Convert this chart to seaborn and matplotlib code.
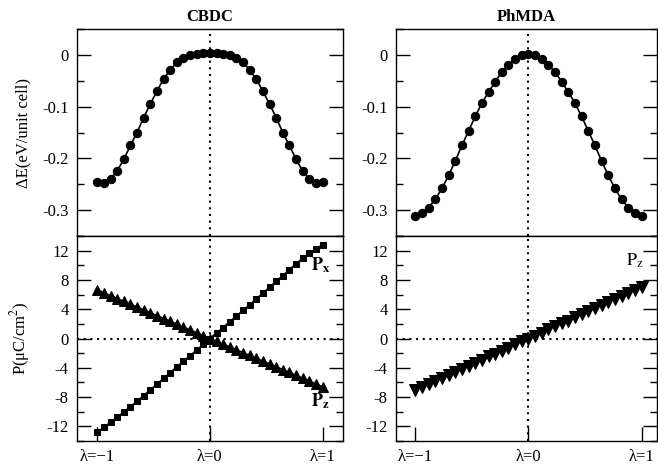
# %%
# Import packages
import numpy as np
import pandas as pd
import seaborn as sns
import matplotlib.pyplot as plt
from matplotlib.ticker import MultipleLocator

# %%
# Values (lambda from -1 to 1)
lam = np.linspace(-1, 1, 35)

cbdc_energy = [-0.246, -0.248, -0.240, -0.224, -0.202, -0.175, -0.150, -0.121, -0.095,
               -0.070, -0.047, -0.029, -0.014, -0.005, -0.001, 0.001, 0.003, 0.004,
               0.003, 0.001, -0.001, -0.005, -0.014, -0.029, -0.047, -0.070, -0.095,
               -0.121, -0.150, -0.175, -0.202, -0.224, -0.240, -0.248, -0.246]
phmda_energy = [-0.311, -0.305, -0.295, -0.279, -0.258, -0.233, -0.205, -0.175, -0.147,
                -0.119, -0.093, -0.072, -0.052, -0.033, -0.019, -0.008, -0.001, 0.002,
                -0.001, -0.008, -0.019, -0.033, -0.052, -0.072, -0.093, -0.119, -0.147,
                -0.175, -0.205, -0.233, -0.258, -0.279, -0.295, -0.305, -0.311]
cbdc_px = [-12.8, -12.1, -11.45, -10.75, -10.05, -9.3, -8.6, -7.8, -7.0,
           -6.25, -5.45, -4.65, -3.9, -3.1, -2.35, -1.6, -0.8, 0.0,
           0.75, 1.5, 2.3, 3.05, 3.85, 4.6, 5.4, 6.2, 7.0,
           7.8, 8.6, 9.4, 10.2, 10.95, 11.65, 12.25, 12.8]
cbdc_pz = [6.65, 6.25, 5.85, 5.45, 5.07, 4.68, 4.28, 3.9, 3.5,
           3.12, 2.73, 2.35, 1.95, 1.56, 1.17, 0.78, 0.39, 0.0,
           -0.39, -0.78, -1.17, -1.55, -1.94, -2.32, -2.71, -3.1, -3.48,
           -3.87, -4.25, -4.64, -5.02, -5.41, -5.8, -6.2, -6.6]
phmda_pz = [-7.0, -6.6, -6.2, -5.8, -5.4, -5.0, -4.6, -4.15, -3.7,
            -3.3, -2.9, -2.45, -2.05, -1.65, -1.25, -0.8, -0.4, 0.0,
            0.4, 0.8, 1.25, 1.65, 2.05, 2.45, 2.9, 3.3, 3.7,
            4.15, 4.6, 5.0, 5.4, 5.8, 6.2, 6.6, 7.0]

x_ticks = [-1, 0, 1]
x_ticklabels = ['λ=\u22121', 'λ=0', 'λ=1']

# %%
sns.set_style('ticks')
plt.rcParams['font.family'] = ['Liberation Serif', 'DejaVu Serif']
plt.rcParams['mathtext.fontset'] = 'stix'
plt.rcParams['axes.unicode_minus'] = False
plt.rcParams['font.size'] = 12
for key in ['text.color', 'axes.labelcolor', 'xtick.color', 'ytick.color', 'axes.edgecolor']:
    plt.rcParams[key] = 'black'

fig = plt.figure(figsize=(6.58, 4.66), dpi=100)
ax_tl = fig.add_axes([0.117, 0.4936, 0.404, 0.444])
ax_bl = fig.add_axes([0.117, 0.0536, 0.404, 0.44])
ax_tr = fig.add_axes([0.602, 0.4936, 0.397, 0.444])
ax_br = fig.add_axes([0.602, 0.0536, 0.397, 0.44])

df = pd.DataFrame({'lam': lam, 'cbdc_e': cbdc_energy, 'phmda_e': phmda_energy,
                   'px': cbdc_px, 'pz': cbdc_pz, 'phmda_pz': phmda_pz})

line_kw = dict(color='black', linewidth=1.2, markeredgecolor='black')
sns.lineplot(data=df, x='lam', y='cbdc_e', ax=ax_tl, marker='o', markersize=6, **line_kw)
sns.lineplot(data=df, x='lam', y='phmda_e', ax=ax_tr, marker='o', markersize=6, **line_kw)
sns.lineplot(data=df, x='lam', y='px', ax=ax_bl, marker='s', markersize=5, **line_kw)
sns.lineplot(data=df, x='lam', y='pz', ax=ax_bl, marker='^', markersize=6.5, **line_kw)
sns.lineplot(data=df, x='lam', y='phmda_pz', ax=ax_br, marker='v', markersize=8, **line_kw)

# dotted guides
dots = (0, (1, 2.2))
for ax in [ax_tl, ax_bl, ax_tr, ax_br]:
    ax.axvline(0, color='black', linestyle=dots, linewidth=1.5, zorder=0)
for ax in [ax_bl, ax_br]:
    ax.axhline(0, color='black', linestyle=dots, linewidth=1.5, zorder=0)

# axes styling
for ax in [ax_tl, ax_tr]:
    ax.set_ylim(-0.35, 0.05)
    ax.yaxis.set_major_locator(MultipleLocator(0.1))
    ax.yaxis.set_minor_locator(MultipleLocator(0.05))
    ax.set_xticks([])
for ax in [ax_bl, ax_br]:
    ax.set_ylim(-14, 14)
    ax.yaxis.set_major_locator(MultipleLocator(4))
    ax.yaxis.set_minor_locator(MultipleLocator(2))
    ax.set_xticks(x_ticks)
    ax.set_xticklabels(x_ticklabels)
    ax.tick_params(axis='x', direction='in', length=10, width=1, pad=6, labelsize=12)

ax_tl.set_xlim(-1.18, 1.18)
ax_bl.set_xlim(-1.18, 1.18)
ax_tr.set_xlim(-1.17, 1.14)
ax_br.set_xlim(-1.17, 1.14)

for ax in [ax_tl, ax_bl, ax_tr, ax_br]:
    ax.tick_params(axis='y', which='major', direction='in', length=10, width=1,
                   left=True, right=True, labelsize=12, pad=6)
    ax.tick_params(axis='y', which='minor', direction='in', length=5, width=1,
                   left=True, right=True)
    for sp in ax.spines.values():
        sp.set_linewidth(1.0)
    ax.set_xlabel('')
    ax.set_ylabel('')

e_fmt = plt.FuncFormatter(lambda v, p: '0' if abs(v) < 1e-9 else f'{v:.1f}')
ax_tl.yaxis.set_major_formatter(e_fmt)
ax_tr.yaxis.set_major_formatter(e_fmt)

ax_tl.set_ylabel('ΔE(eV/unit cell)', fontsize=12)
ax_bl.set_ylabel('P(μC/cm$^{2}$)', fontsize=12)
ax_tl.yaxis.set_label_coords(-0.17, 0.5)
ax_bl.yaxis.set_label_coords(-0.17, 0.5)

ax_tl.set_title('CBDC', fontsize=12, fontweight='bold', pad=6)
ax_tr.set_title('PhMDA', fontsize=12, fontweight='bold', pad=6)

ax_bl.text(0.9, 9.3, r'$\mathbf{P_x}$', fontsize=13)
ax_bl.text(0.9, -9.3, r'$\mathbf{P_z}$', fontsize=13)
ax_br.text(0.86, 9.9, r'$\mathrm{P_z}$', fontsize=13)

fig.savefig('out.png', dpi=100)
